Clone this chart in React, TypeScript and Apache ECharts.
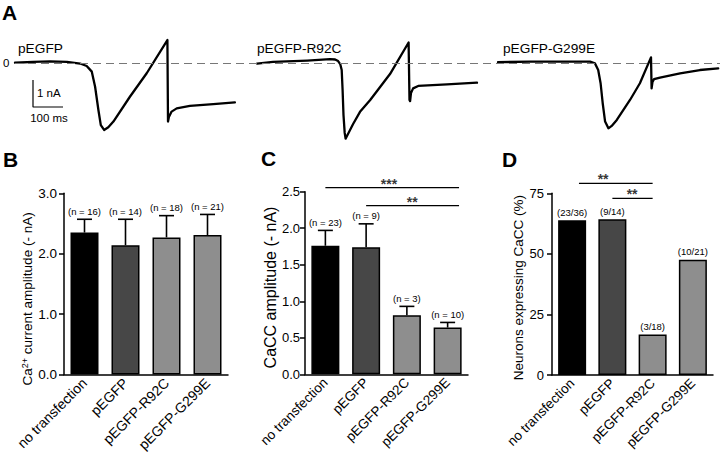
import React, { useEffect, useRef } from "react";
import * as echarts from "echarts";

const FONT = "Liberation Sans, Arial, Helvetica, sans-serif";

// ---------- Panel A: example current traces (time in ms, current in nA) ----------
const traceNames = ["pEGFP", "pEGFP-R92C", "pEGFP-G299E"];
const trace1Ms = [0, 60, 117, 173, 217, 239, 256, 267, 278, 286, 297, 311, 328, 383, 439, 508, 510, 513, 522, 539, 583, 661, 733];
const trace1nA = [0.01, 0.04, 0.06, 0.04, -0.02, -0.11, -0.32, -0.88, -1.74, -2.3, -2.48, -2.38, -2.17, -1.25, -0.38, 0.85, -2.17, -2.0, -1.8, -1.68, -1.59, -1.52, -1.46];
const trace2Ms = [0, 53, 167, 243, 260, 270, 277, 282, 285, 288, 292, 295, 303, 320, 343, 377, 443, 505, 508, 510, 513, 520, 537, 633, 733];
const trace2nA = [-0.02, 0.04, 0.09, 0.14, 0.13, 0.07, -0.04, -0.26, -1.0, -1.93, -2.59, -2.8, -2.63, -2.26, -1.81, -1.37, -0.41, 0.76, -1.37, -1.41, -1.11, -0.94, -0.85, -0.79, -0.73];
const trace3Ms = [0, 107, 217, 307, 323, 334, 342, 349, 357, 368, 379, 396, 440, 473, 510, 512, 515, 520, 540, 607, 673, 734];
const trace3nA = [0.03, 0.05, 0.05, 0.05, -0.01, -0.26, -0.75, -1.49, -2.17, -2.42, -2.33, -2.11, -1.37, -0.75, 0.21, -0.94, -0.7, -0.6, -0.54, -0.38, -0.26, -0.2];
// scale bar: 1 nA by 100 ms
const scaleBarMs = [60, 60, 160];
const scaleBarnA = [-0.63, -1.63, -1.63];

// ---------- Panels B-D ----------
const categories = ["no transfection", "pEGFP", "pEGFP-R92C", "pEGFP-G299E"];
const caMean = [2.35, 2.14, 2.27, 2.31];
const caSem = [0.22, 0.43, 0.36, 0.34];
const caN = [16, 14, 18, 21];
const caccMean = [1.76, 1.74, 0.81, 0.64];
const caccSem = [0.21, 0.32, 0.12, 0.07];
const caccN = [23, 9, 3, 10];
const expressing = [23, 9, 3, 10];
const recorded = [36, 14, 18, 21];

const sigCFrom = [0, 1];
const sigCTo = [3.28, 3.28];
const sigCY = [2.556, 2.31];
const sigCStars = ["***", "**"];
const sigCStarX = [1.56, 2.13];
const sigDFrom = [0.17, 1];
const sigDTo = [2, 2];
const sigDY = [79.1, 72.9];
const sigDStars = ["**", "**"];
const sigDStarX = [0.77, 1.49];

const barColors = ["#000000", "#474747", "#8e8e8e", "#8e8e8e"];

export default function App() {
  const ref = useRef<HTMLDivElement>(null);
  useEffect(() => {
    if (!ref.current) return;
    const chart = echarts.init(ref.current, undefined, { renderer: "svg" });

    const traceOffsets = [0, 807, 1610];
    const traces = [
      [trace1Ms, trace1nA],
      [trace2Ms, trace2nA],
      [trace3Ms, trace3nA],
    ];

    const catAxis = (gridIndex: number, fontSize: number) => ({
      gridIndex,
      type: "category",
      data: categories,
      axisLine: { onZero: false, lineStyle: { color: "#000", width: 1.5 } },
      axisTick: { show: false },
      axisLabel: { rotate: 45, interval: 0, color: "#000", fontSize, margin: 6, fontFamily: FONT },
      splitLine: { show: false },
    });
    const valAxis = (gridIndex: number, min: number, max: number, interval: number, digits: number, fontSize: number, margin: number, name: any, nameSize: number, nameGap: number, shift: number, rich?: any) => ({
      gridIndex,
      type: "value",
      min,
      max,
      interval,
      axisLine: { show: true, onZero: false, lineStyle: { color: "#000", width: 1.5 } },
      axisTick: { show: true, length: 5, lineStyle: { color: "#000", width: 1.5 } },
      splitLine: { show: false },
      axisLabel: { color: "#000", fontSize, margin, fontFamily: FONT, formatter: (v: number) => v.toFixed(digits) },
      name,
      nameLocation: "middle",
      nameGap,
      nameRotate: 90,
      nameTextStyle: { color: "#000", fontSize: nameSize, fontFamily: FONT, padding: [0, shift, 0, 0], rich },
    });

    const errSeries = (xi: number, yi: number, mean: number[], sem: number[], n: number[], fontSize: number) => ({
      type: "custom",
      xAxisIndex: xi,
      yAxisIndex: yi,
      z: 5,
      clip: false,
      encode: { x: 0, y: [1, 2] },
      data: mean.map((m, i) => [i, m, m + sem[i]]),
      renderItem: (params: any, api: any) => {
        const x = api.value(0);
        const p0 = api.coord([x, api.value(1)]);
        const p1 = api.coord([x, api.value(2)]);
        const cap = 7.5;
        return {
          type: "group",
          children: [
            { type: "line", shape: { x1: p0[0], y1: p0[1], x2: p1[0], y2: p1[1] }, style: { stroke: "#000", lineWidth: 1.6 } },
            { type: "line", shape: { x1: p1[0] - cap, y1: p1[1], x2: p1[0] + cap, y2: p1[1] }, style: { stroke: "#000", lineWidth: 1.6 } },
            {
              type: "text",
              x: p1[0],
              y: p1[1] - 3,
              style: { text: "(n = " + n[params.dataIndex] + ")", align: "center", verticalAlign: "bottom", font: fontSize + "px " + FONT, fill: "#000" },
            },
          ],
        };
      },
    });

    const barSeries = (xi: number, yi: number, values: number[], extra: any = {}) => ({
      type: "bar",
      xAxisIndex: xi,
      yAxisIndex: yi,
      barWidth: 28,
      data: values.map((v, i) => ({ value: v, itemStyle: { color: barColors[i] } })),
      itemStyle: { borderColor: "#000", borderWidth: 1.5 },
      ...extra,
    });

    const sigSeries = (xi: number, yi: number, from: number[], to: number[], y: number[], stars: string[], starX: number[]) => {
      const out: any[] = from.map((f, i) => ({
        type: "line",
        xAxisIndex: xi,
        yAxisIndex: yi,
        symbol: "none",
        clip: false,
        data: [
          [f, y[i]],
          [to[i], y[i]],
        ],
        lineStyle: { color: "#000", width: 1.4 },
      }));
      out.push({
        type: "scatter",
        xAxisIndex: xi,
        yAxisIndex: yi,
        symbol: "circle",
        symbolSize: 1,
        clip: false,
        itemStyle: { color: "rgba(0,0,0,0)" },
        data: starX.map((x, i) => [x, y[i]]),
        label: {
          show: true,
          position: "inside",
          offset: [0, -4],
          color: "#000",
          fontSize: 14,
          fontWeight: "bold",
          fontFamily: FONT,
          formatter: (p: any) => stars[p.dataIndex],
        },
      });
      return out;
    };

    const pct = expressing.map((e, i) => (e / recorded[i]) * 100);

    const option: any = {
      animation: false,
      backgroundColor: "#fff",
      textStyle: { fontFamily: FONT },
      grid: [
        { left: 15, top: 9, width: 705, height: 135 },
        { left: 64, top: 193.3, width: 164, height: 181.2 },
        { left: 305, top: 191.7, width: 163, height: 182.6 },
        { left: 552, top: 193.3, width: 161, height: 181.7 },
      ],
      xAxis: [
        { gridIndex: 0, type: "value", min: 0, max: 2350, show: false },
        catAxis(1, 14),
        catAxis(2, 13.5),
        catAxis(3, 13.5),
        { gridIndex: 2, type: "value", min: -0.5, max: 3.5, show: false },
        { gridIndex: 3, type: "value", min: -0.5, max: 3.5, show: false },
      ],
      yAxis: [
        { gridIndex: 0, type: "value", min: -3, max: 2, show: false },
        valAxis(1, 0, 3, 1, 1, 13.5, 7, "{n|Ca}{s|2+}{n| current amplitude (- nA)}", 13.5, 29, 30, {
          n: { fontSize: 13.5, fontFamily: FONT, color: "#000" },
          s: { fontSize: 9, fontFamily: FONT, color: "#000", verticalAlign: "top", padding: [0, 0, 3, 0] },
        }),
        valAxis(2, 0, 2.5, 0.5, 1, 13, 5, "CaCC amplitude (- nA)", 16, 26, 9),
        valAxis(3, 0, 75, 25, 0, 13, 8, "Neurons expressing CaCC (%)", 13.5, 27, 7),
      ],
      series: [
        {
          type: "line",
          xAxisIndex: 0,
          yAxisIndex: 0,
          data: [],
          z: 1,
          markLine: {
            silent: true,
            symbol: "none",
            label: { show: false },
            lineStyle: { color: "#777", type: [8, 5], width: 1 },
            data: [{ yAxis: 0 }],
          },
        },
        ...traces.map(([ms, na], k) => ({
          type: "line",
          name: traceNames[k],
          xAxisIndex: 0,
          yAxisIndex: 0,
          symbol: "none",
          z: 3,
          data: ms.map((t, i) => [t + traceOffsets[k], na[i]]),
          lineStyle: { color: "#000", width: 2.3, join: "round", cap: "round" },
        })),
        {
          type: "line",
          xAxisIndex: 0,
          yAxisIndex: 0,
          symbol: "none",
          data: scaleBarMs.map((t, i) => [t, scaleBarnA[i]]),
          lineStyle: { color: "#000", width: 1.2 },
        },
        barSeries(1, 1, caMean),
        errSeries(1, 1, caMean, caSem, caN, 9.5),
        barSeries(2, 2, caccMean),
        errSeries(2, 2, caccMean, caccSem, caccN, 9.5),
        ...sigSeries(4, 2, sigCFrom, sigCTo, sigCY, sigCStars, sigCStarX),
        barSeries(3, 3, pct, {
          label: {
            show: true,
            position: "top",
            distance: 3,
            color: "#000",
            fontSize: 9.5,
            fontFamily: FONT,
            formatter: (p: any) => "(" + expressing[p.dataIndex] + "/" + recorded[p.dataIndex] + ")",
          },
        }),
        ...sigSeries(5, 3, sigDFrom, sigDTo, sigDY, sigDStars, sigDStarX),
      ],
      graphic: [
        { type: "text", x: 2, y: 12, style: { text: "A", font: "bold 21px " + FONT, fill: "#000", verticalAlign: "middle" } },
        { type: "text", x: 3, y: 159.5, style: { text: "B", font: "bold 21px " + FONT, fill: "#000", verticalAlign: "middle" } },
        { type: "text", x: 261, y: 158.5, style: { text: "C", font: "bold 21px " + FONT, fill: "#000", verticalAlign: "middle" } },
        { type: "text", x: 502, y: 159.5, style: { text: "D", font: "bold 21px " + FONT, fill: "#000", verticalAlign: "middle" } },
        { type: "text", x: 3, y: 63, style: { text: "0", font: "11.5px " + FONT, fill: "#000", verticalAlign: "middle" } },
        { type: "text", x: 37, y: 93, style: { text: "1 nA", font: "11.5px " + FONT, fill: "#000", verticalAlign: "middle" } },
        { type: "text", x: 49, y: 118, style: { text: "100 ms", font: "11.5px " + FONT, fill: "#000", align: "center", verticalAlign: "middle" } },
        { type: "text", x: 18, y: 48, style: { text: traceNames[0], font: "13.7px " + FONT, fill: "#000", verticalAlign: "middle" } },
        { type: "text", x: 257, y: 48, style: { text: traceNames[1], font: "13.7px " + FONT, fill: "#000", verticalAlign: "middle" } },
        { type: "text", x: 503, y: 48, style: { text: traceNames[2], font: "13.7px " + FONT, fill: "#000", verticalAlign: "middle" } },
      ],
    };
    chart.setOption(option);
    return () => chart.dispose();
  }, []);
  return <div ref={ref} style={{ position: "fixed", left: 0, top: 0, width: 720, height: 455, background: "#fff" }} />;
}
